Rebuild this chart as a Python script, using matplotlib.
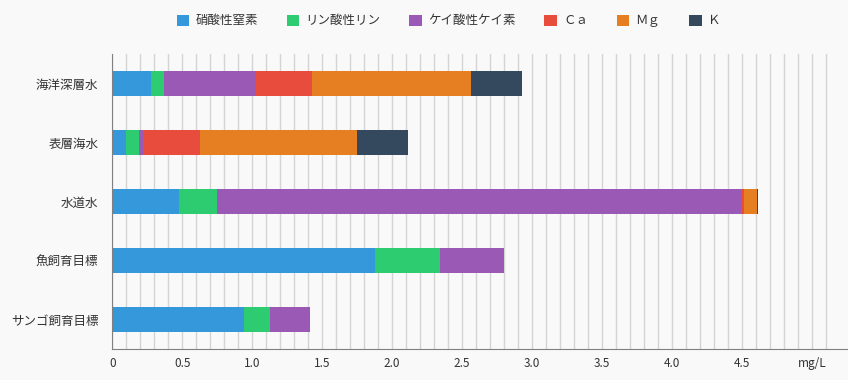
import numpy as np
import matplotlib
matplotlib.use('Agg')
import matplotlib.pyplot as plt
from matplotlib.patches import Patch

plt.rcParams['font.family'] = ['Noto Sans CJK JP', 'DejaVu Sans']

# Data (mg/L)
categories = ['海洋深層水', '表層海水', '水道水', '魚飼育目標', 'サンゴ飼育目標']
series_names = ['硝酸性窒素', 'リン酸性リン', 'ケイ酸性ケイ素', 'Ｃａ', 'Ｍｇ', 'Ｋ']
nitrate = [0.28, 0.10, 0.48, 1.88, 0.94]
phosphate = [0.09, 0.09, 0.27, 0.46, 0.19]
silicate = [0.66, 0.03, 3.74, 0.46, 0.28]
calcium = [0.40, 0.41, 0.024, 0, 0]
magnesium = [1.13, 1.12, 0.09, 0, 0]
potassium = [0.37, 0.36, 0.007, 0, 0]
x_ticks = [0, 0.5, 1.0, 1.5, 2.0, 2.5, 3.0, 3.5, 4.0, 4.5, 5.0]
x_tick_labels = ['0', '0.5', '1.0', '1.5', '2.0', '2.5', '3.0', '3.5', '4.0', '4.5', 'mg/L']

colors = ['#3498db', '#2ecc71', '#9b59b6', '#e74c3c', '#e67e22', '#34495e']
series = [nitrate, phosphate, silicate, calcium, magnesium, potassium]

bg = '#f9f9f9'
fig = plt.figure(figsize=(8.48, 3.8), dpi=100, facecolor=bg)
ax = fig.add_axes([0.1324, 0.0816, 0.8664, 0.7763], facecolor=bg)

y = np.arange(len(categories))
left = np.zeros(len(categories))
for vals, c in zip(series, colors):
    ax.barh(y, vals, left=left, height=0.42, color=c, zorder=3)
    left += np.array(vals)

ax.set_ylim(len(categories) - 0.5, -0.5)
ax.set_xlim(0, 5.25)

# fine vertical grid every 0.1
ax.set_xticks(np.arange(0.1, 5.11, 0.1), minor=True)
ax.grid(axis='x', which='both', color='#d4d4d4', linewidth=1, zorder=0)
ax.set_xticks(x_ticks)
ax.set_xticklabels(x_tick_labels)
ax.tick_params(axis='x', which='both', length=0, pad=6, labelsize=8.5, colors='#333333')
ax.set_yticks(y)
ax.set_yticklabels(categories)
ax.tick_params(axis='y', length=0, pad=10, labelsize=9, colors='#333333')

for s in ['top', 'right']:
    ax.spines[s].set_visible(False)
ax.spines['left'].set_color('#808080')
ax.spines['bottom'].set_color('#808080')
ax.spines['left'].set_zorder(4)

handles = [Patch(facecolor=c, edgecolor='none') for c in colors]
fig.legend(handles, series_names, loc='center', bbox_to_anchor=(0.529, 0.945),
           ncol=6, frameon=False, fontsize=9, handlelength=1.0, handleheight=1.0,
           handletextpad=0.5, columnspacing=2.3, labelcolor='#333333')

fig.savefig('out.png', dpi=100, facecolor=bg)
